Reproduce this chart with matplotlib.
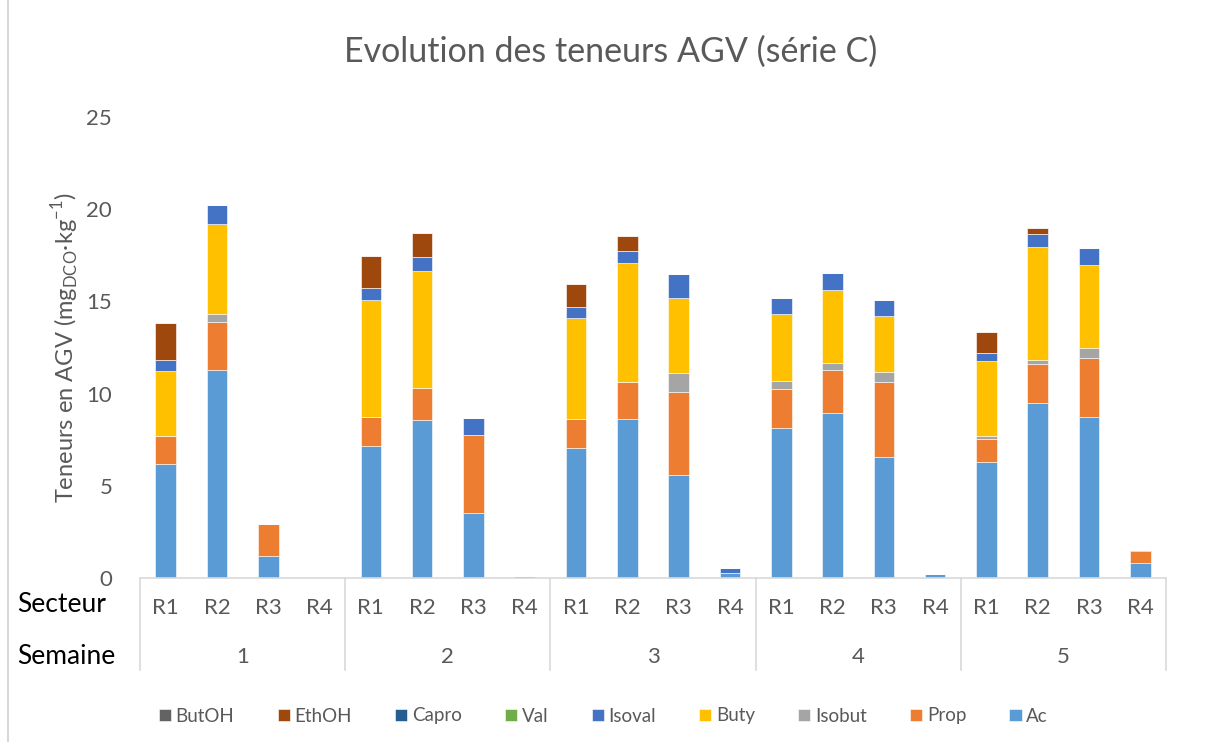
import matplotlib
matplotlib.use("Agg")
import matplotlib.pyplot as plt
import matplotlib.transforms as mtransforms
import numpy as np

FONT = ["Lato", "DejaVu Sans"]
plt.rcParams["font.family"] = FONT
plt.rcParams["mathtext.fontset"] = "custom"
plt.rcParams["mathtext.rm"] = "Lato"
GREY_TXT = "#595959"
GREY_LINE = "#D9D9D9"

secteurs = ["R1", "R2", "R3", "R4"]
semaines = ["1", "2", "3", "4", "5"]

# one value per bar: week 1 R1..R4, week 2 R1..R4, ...
ac = [6.18, 11.26, 1.19, 0.0, 7.14, 8.55, 3.51, 0.11, 7.07, 8.61, 5.57, 0.27,
      8.15, 8.93, 6.58, 0.22, 6.27, 9.49, 8.71, 0.80]
prop = [1.50, 2.64, 1.72, 0.0, 1.61, 1.77, 4.23, 0.0, 1.57, 2.00, 4.53, 0.0,
        2.12, 2.33, 4.03, 0.0, 1.27, 2.13, 3.24, 0.65]
isobut = [0.0, 0.42, 0.0, 0.0, 0.0, 0.0, 0.0, 0.0, 0.0, 0.0, 1.03, 0.0,
          0.41, 0.42, 0.56, 0.0, 0.16, 0.20, 0.51, 0.0]
buty = [3.56, 4.88, 0.0, 0.0, 6.33, 6.33, 0.0, 0.0, 5.44, 6.46, 4.07, 0.0,
        3.62, 3.94, 3.04, 0.0, 4.07, 6.11, 4.51, 0.0]
isoval = [0.58, 1.03, 0.0, 0.0, 0.63, 0.77, 0.94, 0.0, 0.60, 0.66, 1.29, 0.27,
          0.90, 0.94, 0.85, 0.0, 0.45, 0.71, 0.91, 0.07]
val = [0.0] * 20
capro = [0.0] * 20
ethoh = [2.02, 0.0, 0.0, 0.0, 1.77, 1.29, 0.0, 0.0, 1.26, 0.82, 0.0, 0.0,
         0.0, 0.0, 0.0, 0.0, 1.10, 0.32, 0.0, 0.0]
butoh = [0.0] * 20

series = [
    ("Ac", ac, "#5B9BD5"),
    ("Prop", prop, "#ED7D31"),
    ("Isobut", isobut, "#A5A5A5"),
    ("Buty", buty, "#FFC000"),
    ("Isoval", isoval, "#4472C4"),
    ("Val", val, "#70AD47"),
    ("Capro", capro, "#255E91"),
    ("EthOH", ethoh, "#9E480E"),
    ("ButOH", butoh, "#636363"),
]

W, H = 1214, 742
fig = plt.figure(figsize=(W / 100, H / 100), dpi=100)
ax = fig.add_axes([140 / W, 1 - 578 / H, 1026 / W, (578 - 117) / H])

n = len(secteurs) * len(semaines)
x = np.arange(n)
bottom = np.zeros(n)
handles = []
for name, vals, color in series:
    v = np.array(vals)
    b = ax.bar(x, v, 0.4, bottom=bottom, color=color, label=name,
               edgecolor="white", linewidth=0.4)
    handles.append(b)
    bottom += v

ax.set_xlim(-0.5, n - 0.5)
ax.set_ylim(0, 25)
ax.set_yticks(range(0, 26, 5))
ax.tick_params(axis="y", length=0, pad=20, labelsize=16, labelcolor=GREY_TXT)
ax.set_xticks([])
for side in ["top", "right", "left"]:
    ax.spines[side].set_visible(False)
ax.spines["bottom"].set_color(GREY_LINE)
ax.spines["bottom"].set_linewidth(1.2)

ax.set_ylabel(r"Teneurs en AGV (mg$_{\mathregular{DCO}}$·kg$^{\mathregular{-1}}$)",
              fontsize=17, color=GREY_TXT, labelpad=3)

# two-level category axis
trans = mtransforms.blended_transform_factory(ax.transData, ax.transAxes)
for i in range(n):
    ax.text(i, -0.064, secteurs[i % 4], transform=trans, ha="center",
            va="center", fontsize=16, color=GREY_TXT)
for g, lab in enumerate(semaines):
    ax.text(g * 4 + 1.5, -0.172, lab, transform=trans, ha="center",
            va="center", fontsize=16, color=GREY_TXT)
for g in range(len(semaines) + 1):
    ax.plot([g * 4 - 0.5] * 2, [0, -0.2], transform=trans, color=GREY_LINE,
            lw=1.2, clip_on=False)

fig.text(17 / W, 1 - 605 / H, "Secteur", fontsize=19, color="black",
         ha="left", va="center")
fig.text(17 / W, 1 - 657 / H, "Semaine", fontsize=19, color="black",
         ha="left", va="center")

fig.suptitle("Evolution des teneurs AGV (série C)", x=0.503, y=1 - 52 / H,
             va="center", fontsize=24.5, color=GREY_TXT)

fig.legend(handles[::-1], [s[0] for s in series][::-1], loc="center",
           bbox_to_anchor=(0.497, 1 - 716 / H), ncol=9, frameon=False,
           fontsize=13.5, handlelength=0.65, handleheight=0.65,
           handletextpad=0.25, columnspacing=2.3, labelcolor=GREY_TXT)

# chart area border on the left
fig.add_artist(plt.Line2D([8 / W, 8 / W], [0, 1], color=GREY_LINE, lw=1.5))

fig.savefig("out.png", dpi=100)
